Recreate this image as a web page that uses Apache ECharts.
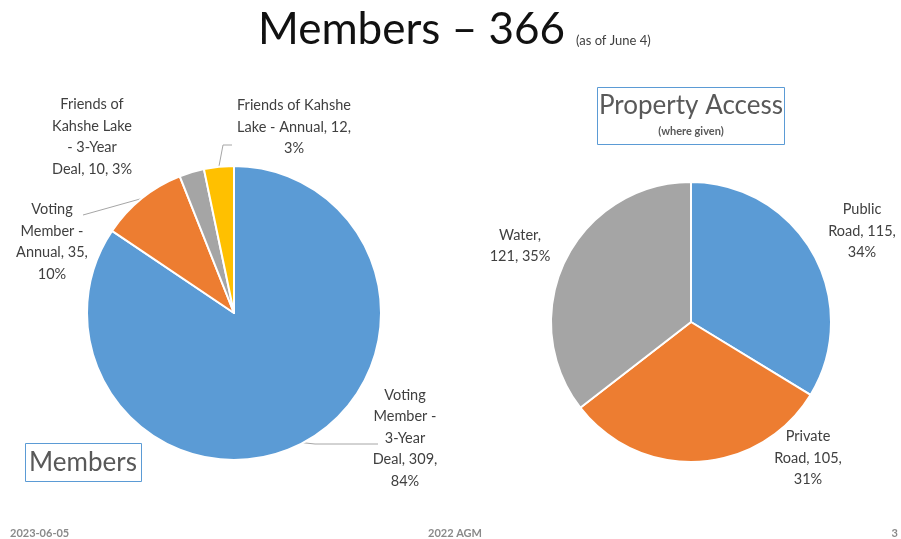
<!DOCTYPE html>
<html>
<head>
<meta charset="utf-8">
<script src="https://cdn.jsdelivr.net/npm/echarts@6/dist/echarts.min.js"></script>
<style>html,body{margin:0;padding:0;background:#fff;}#c{width:901px;height:539px;}</style>
</head>
<body>
<div id="c"></div>
<script>
// ---- data ----
var memberCategories = ['Voting Member - 3-Year Deal', 'Voting Member - Annual', 'Friends of Kahshe Lake - 3-Year Deal', 'Friends of Kahshe Lake - Annual'];
var memberValues = [309, 35, 10, 12];
var memberLabelTemplates = [
  'Voting\nMember -\n3-Year\nDeal, {c},\n{d}%',
  'Voting\nMember -\nAnnual, {c},\n{d}%',
  'Friends of\nKahshe Lake\n- 3-Year\nDeal, {c}, {d}%',
  'Friends of Kahshe\nLake - Annual, {c},\n{d}%'
];
var accessCategories = ['Public Road', 'Private Road', 'Water'];
var accessValues = [115, 105, 121];
var accessLabelTemplates = [
  'Public\nRoad, {c},\n{d}%',
  'Private\nRoad, {c},\n{d}%',
  'Water,\n{c}, {d}%'
];
var mainTitle = 'Members \u2013 366';
var titleNote = '(as of June 4)';
var footerDate = '2023-06-05';
var footerEvent = '2022 AGM';
var footerPage = '3';

// ---- styling / layout ----
var colors4 = ['#5B9BD5', '#ED7D31', '#A5A5A5', '#FFC000'];
var colors3 = ['#5B9BD5', '#ED7D31', '#A5A5A5'];
var memberLabelPos = [[405, 438], [52, 242], [92, 137], [294, 127]];
var memberLineShow = [true, true, false, true];
// label-side points of the leader lines (sector-side point comes from ECharts)
var memberLineTails = [[[315, 444], [378, 444]], [[83, 215]], null, [[223, 145], [232, 145]]];
var accessLabelPos = [[862, 231], [808, 458], [520, 246]];
var FONT = 'Lato, "Open Sans", sans-serif';

function fmt(templates) {
  return function (p) {
    return templates[p.dataIndex]
      .replace('{c}', p.value)
      .replace('{d}', Math.round(p.percent));
  };
}
function layoutFn(pos, tails) {
  return function (p) {
    var o = { x: pos[p.dataIndex][0], y: pos[p.dataIndex][1], align: 'center', verticalAlign: 'middle', hideOverlap: false };
    if (tails && tails[p.dataIndex] && p.labelLinePoints) {
      o.labelLinePoints = [p.labelLinePoints[0]].concat(tails[p.dataIndex]);
    }
    return o;
  };
}

var chart = echarts.init(document.getElementById('c'), null, { renderer: 'canvas' });
chart.setOption({
  animation: false,
  backgroundColor: '#ffffff',
  series: [
    {
      type: 'pie',
      center: [234, 313],
      radius: [0, 147],
      startAngle: 90,
      clockwise: true,
      avoidLabelOverlap: false,
      itemStyle: { borderColor: '#ffffff', borderWidth: 2 },
      label: {
        show: true, position: 'outside', formatter: fmt(memberLabelTemplates),
        color: '#404040', fontFamily: FONT, fontSize: 14.5, lineHeight: 21.5, align: 'center'
      },
      labelLine: { show: true, length: 10, length2: 10, lineStyle: { color: '#a6a6a6', width: 1 } },
      labelLayout: layoutFn(memberLabelPos, memberLineTails),
      data: memberValues.map(function (v, i) {
        return { name: memberCategories[i], value: v, itemStyle: { color: colors4[i] }, labelLine: { show: memberLineShow[i] } };
      })
    },
    {
      type: 'pie',
      center: [691, 322],
      radius: [0, 140],
      startAngle: 90,
      clockwise: true,
      avoidLabelOverlap: false,
      itemStyle: { borderColor: '#ffffff', borderWidth: 2 },
      label: {
        show: true, position: 'outside', formatter: fmt(accessLabelTemplates),
        color: '#404040', fontFamily: FONT, fontSize: 14.5, lineHeight: 21.5, align: 'center'
      },
      labelLine: { show: false },
      labelLayout: layoutFn(accessLabelPos, null),
      data: accessValues.map(function (v, i) {
        return { name: accessCategories[i], value: v, itemStyle: { color: colors3[i] } };
      })
    }
  ],
  graphic: [
    { type: 'text', left: 258, top: 8, style: { text: mainTitle, font: '44px ' + FONT, fill: '#111111' } },
    { type: 'text', x: 576, y: 41, style: { text: titleNote, font: '13px ' + FONT, fill: '#404040', verticalAlign: 'middle' } },
    { type: 'rect', shape: { x: 597.5, y: 87.5, width: 187, height: 57 }, style: { fill: 'none', stroke: '#5B9BD5', lineWidth: 1 } },
    { type: 'text', x: 691, y: 106, style: { text: 'Property Access', font: '26px ' + FONT, fill: '#595959', align: 'center', verticalAlign: 'middle' } },
    { type: 'text', x: 691, y: 131, style: { text: '(where given)', font: 'bold 11px ' + FONT, fill: '#595959', align: 'center', verticalAlign: 'middle' } },
    { type: 'rect', shape: { x: 25.5, y: 443.5, width: 116, height: 38 }, style: { fill: 'none', stroke: '#5B9BD5', lineWidth: 1 } },
    { type: 'text', x: 83, y: 463, style: { text: 'Members', font: '26px ' + FONT, fill: '#595959', align: 'center', verticalAlign: 'middle' } },
    { type: 'text', x: 10, y: 533, style: { text: footerDate, font: 'bold 11px ' + FONT, fill: '#8a8a8a', verticalAlign: 'middle' } },
    { type: 'text', x: 455, y: 533, style: { text: footerEvent, font: 'bold 11px ' + FONT, fill: '#8a8a8a', align: 'center', verticalAlign: 'middle' } },
    { type: 'text', x: 898, y: 533, style: { text: footerPage, font: 'bold 11px ' + FONT, fill: '#8a8a8a', align: 'right', verticalAlign: 'middle' } }
  ]
});
</script>
</body>
</html>
